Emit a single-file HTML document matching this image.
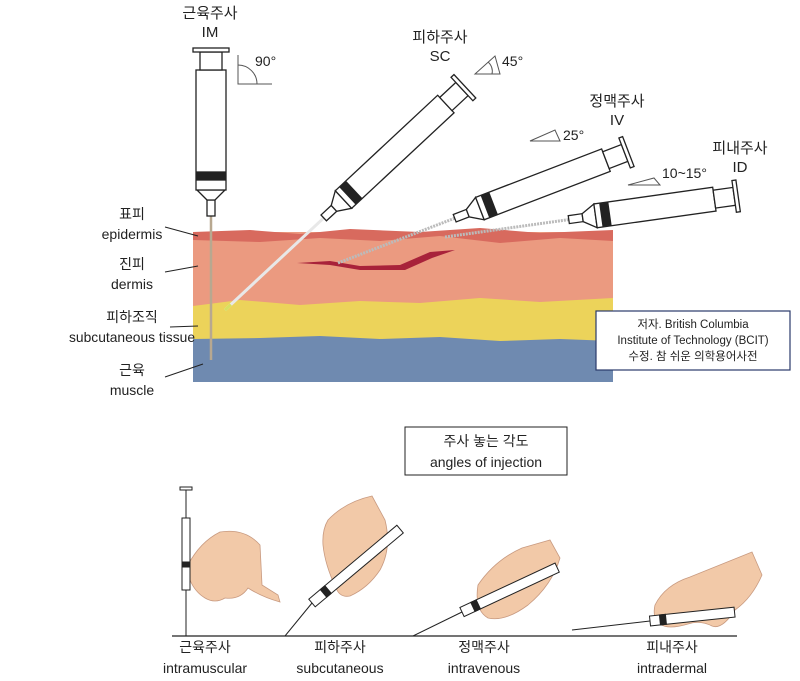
<!DOCTYPE html>
<html><head><meta charset="utf-8"><style>
html,body{margin:0;padding:0;background:#fff;}
svg{display:block;}
text{font-family:"Liberation Sans","Noto Sans CJK KR",sans-serif;fill:#222;}
</style></head><body>
<svg width="800" height="681" viewBox="0 0 800 681" xmlns="http://www.w3.org/2000/svg">
<!-- skin layers -->
<rect x="193" y="232" width="420" height="150" fill="#eb9a80"/>
<path d="M193 232 L250 230 L300 234 L350 229 L420 232 L480 228 L540 233 L613 230 L613 241 L560 238 L500 243 L440 236 L380 241 L320 238 L260 242 L193 240 Z" fill="#d86a5e"/>
<path d="M193 306 L240 300 L300 305 L360 301 L420 303 L480 298 L540 302 L613 298 L613 342 L560 340 L500 343 L440 338 L380 341 L320 338 L260 340 L193 339 Z" fill="#ecd35a"/>
<path d="M193 339 L260 338 L320 336 L380 339 L440 337 L500 341 L560 339 L613 341 L613 382 L193 382 Z" fill="#6f8ab0"/>
<path d="M297 263 L330 261 L360 266 L400 265 L430 252 L455 250 L432 258 L405 270 L360 270 L330 265 Z" fill="#a8223a"/>

<!-- IM syringe -->
<g stroke="#222" fill="#fff" stroke-width="1.3">
<line x1="211" y1="360" x2="211" y2="215" stroke="#b8a890" stroke-width="2.5"/>
<rect x="207" y="200" width="8" height="16"/>
<path d="M207 200 L197 190 L225 190 L215 200 Z"/>
<rect x="196" y="70" width="30" height="120"/>
<rect x="197" y="172" width="28" height="8" fill="#222"/>
<rect x="200" y="52" width="22" height="18"/>
<rect x="193" y="48" width="36" height="4"/>
</g>
<!-- SC syringe -->
<g transform="translate(225,310) rotate(-43)" stroke="#222" fill="#fff" stroke-width="1.3">
<line x1="0" y1="0" x2="135" y2="0" stroke="#e8e8e8" stroke-width="3"/>
<line x1="0" y1="0" x2="8" y2="0" stroke="#d8e060" stroke-width="3"/>
<rect x="135" y="-4" width="14" height="8"/>
<path d="M149 -4 L162 -12 L162 12 L149 4 Z"/>
<rect x="162" y="-12" width="140" height="24"/>
<rect x="168" y="-11" width="8" height="22" fill="#222"/>
<rect x="302" y="-9" width="22" height="18"/>
<rect x="324" y="-16" width="4" height="32"/>
</g>
<!-- IV syringe -->
<g transform="translate(338,263) rotate(-21)" stroke="#222" fill="#fff" stroke-width="1.3">
<line x1="0" y1="0" x2="125" y2="0" stroke="#bbb" stroke-width="3" stroke-dasharray="2 1"/>
<rect x="125" y="-4" width="14" height="8"/>
<path d="M139 -4 L152 -12 L152 12 L139 4 Z"/>
<rect x="152" y="-12" width="135" height="24"/>
<rect x="158" y="-11" width="8" height="22" fill="#222"/>
<rect x="287" y="-9" width="20" height="18"/>
<rect x="307" y="-16" width="4" height="32"/>
</g>
<!-- ID syringe -->
<g transform="translate(445,237) rotate(-8)" stroke="#222" fill="#fff" stroke-width="1.3">
<line x1="0" y1="0" x2="125" y2="0" stroke="#bbb" stroke-width="3" stroke-dasharray="2 1"/>
<rect x="125" y="-4" width="14" height="8"/>
<path d="M139 -4 L152 -12 L152 12 L139 4 Z"/>
<rect x="152" y="-12" width="120" height="24"/>
<rect x="158" y="-11" width="8" height="22" fill="#222"/>
<rect x="272" y="-9" width="20" height="18"/>
<rect x="292" y="-16" width="4" height="32"/>
</g>

<!-- angle markers -->
<g stroke="#555" fill="none" stroke-width="1">
<path d="M238 55 L238 84 L272 84"/><path d="M238 65 A19 19 0 0 1 257 84"/>
<path d="M475 74 L500 74 L495 56 Z" /><path d="M488 62 A12 12 0 0 1 492 74"/>
<path d="M530 141 L560 141 L555 130 Z"/>
<path d="M628 185 L660 185 L654 178 Z"/>
</g>
<g font-size="15" text-anchor="middle">
<text x="210" y="18">근육주사</text><text x="210" y="37">IM</text>
<text x="440" y="42">피하주사</text><text x="440" y="61">SC</text>
<text x="617" y="106">정맥주사</text><text x="617" y="125">IV</text>
<text x="740" y="153">피내주사</text><text x="740" y="172">ID</text>
</g>
<g font-size="14">
<text x="255" y="66">90°</text>
<text x="502" y="66">45°</text>
<text x="563" y="140">25°</text>
<text x="662" y="178">10~15°</text>
</g>

<!-- left labels -->
<g font-size="14" text-anchor="middle">
<text x="132" y="219">표피</text><text x="132" y="239">epidermis</text>
<text x="132" y="269">진피</text><text x="132" y="289">dermis</text>
<text x="132" y="322">피하조직</text><text x="132" y="342" textLength="126" lengthAdjust="spacingAndGlyphs">subcutaneous tissue</text>
<text x="132" y="375">근육</text><text x="132" y="395">muscle</text>
</g>
<g stroke="#222" stroke-width="1">
<line x1="165" y1="227" x2="198" y2="236"/>
<line x1="165" y1="272" x2="198" y2="266"/>
<line x1="170" y1="327" x2="198" y2="326"/>
<line x1="165" y1="377" x2="203" y2="364"/>
</g>

<!-- credit box -->
<rect x="596" y="311" width="194" height="59" fill="#fff" stroke="#2a3a6a" stroke-width="1.2"/>
<g font-size="11.5" text-anchor="middle" fill="#333">
<text x="693" y="328">저자. British Columbia</text>
<text x="693" y="344">Institute of Technology (BCIT)</text>
<text x="693" y="360">수정. 참 쉬운 의학용어사전</text>
</g>

<!-- title box -->
<rect x="405" y="427" width="162" height="48" fill="#fff" stroke="#222" stroke-width="1"/>
<g font-size="14" text-anchor="middle">
<text x="486" y="446">주사 놓는 각도</text>
<text x="486" y="467">angles of injection</text>
</g>

<!-- bottom illustration -->
<line x1="172" y1="636" x2="737" y2="636" stroke="#222" stroke-width="1.3"/>
<g fill="#f2c9a8" stroke="#c89a80" stroke-width="0.8">
<path d="M188 565 Q200 542 220 532 Q245 528 260 545 L262 585 L278 595 L280 602 Q262 597 248 588 Q240 600 225 598 Q215 604 205 598 Q195 592 190 580 Z"/>
<path d="M328 520 Q345 502 372 496 L385 520 Q392 548 380 570 Q368 588 350 596 Q340 598 336 588 Q325 565 323 545 Q322 530 328 520 Z"/>
<path d="M478 585 Q495 560 522 548 L550 540 L560 558 Q552 585 528 605 Q505 622 488 618 Q474 610 478 585 Z"/>
<path d="M655 605 Q665 585 690 577 Q720 565 752 552 L762 575 Q752 598 735 610 Q722 630 712 626 Q700 620 688 624 Q668 630 660 624 Q652 618 655 605 Z"/>
</g>
<g stroke="#222" stroke-width="1" fill="#fff">
<line x1="186" y1="636" x2="186" y2="590"/>
<rect x="182" y="518" width="8" height="72"/><rect x="182" y="562" width="8" height="5" fill="#222"/>
<rect x="180" y="487" width="12" height="3"/>
<line x1="186" y1="490" x2="186" y2="518"/>
<line x1="285" y1="636" x2="312" y2="603"/>
<g transform="translate(312,603) rotate(-40)"><rect x="0" y="-5" width="115" height="10"/><rect x="15" y="-5" width="6" height="10" fill="#222"/></g>
<line x1="413" y1="636" x2="462" y2="612"/>
<g transform="translate(462,612) rotate(-25)"><rect x="0" y="-5" width="105" height="10"/><rect x="12" y="-5" width="6" height="10" fill="#222"/></g>
<line x1="572" y1="630" x2="650" y2="621"/>
<g transform="translate(650,621) rotate(-6)"><rect x="0" y="-5" width="85" height="10"/><rect x="10" y="-5" width="6" height="10" fill="#222"/></g>
</g>
<g font-size="14" text-anchor="middle">
<text x="205" y="652">근육주사</text><text x="205" y="673">intramuscular</text>
<text x="340" y="652">피하주사</text><text x="340" y="673">subcutaneous</text>
<text x="484" y="652">정맥주사</text><text x="484" y="673">intravenous</text>
<text x="672" y="652">피내주사</text><text x="672" y="673">intradermal</text>
</g>
</svg>
</body></html>
